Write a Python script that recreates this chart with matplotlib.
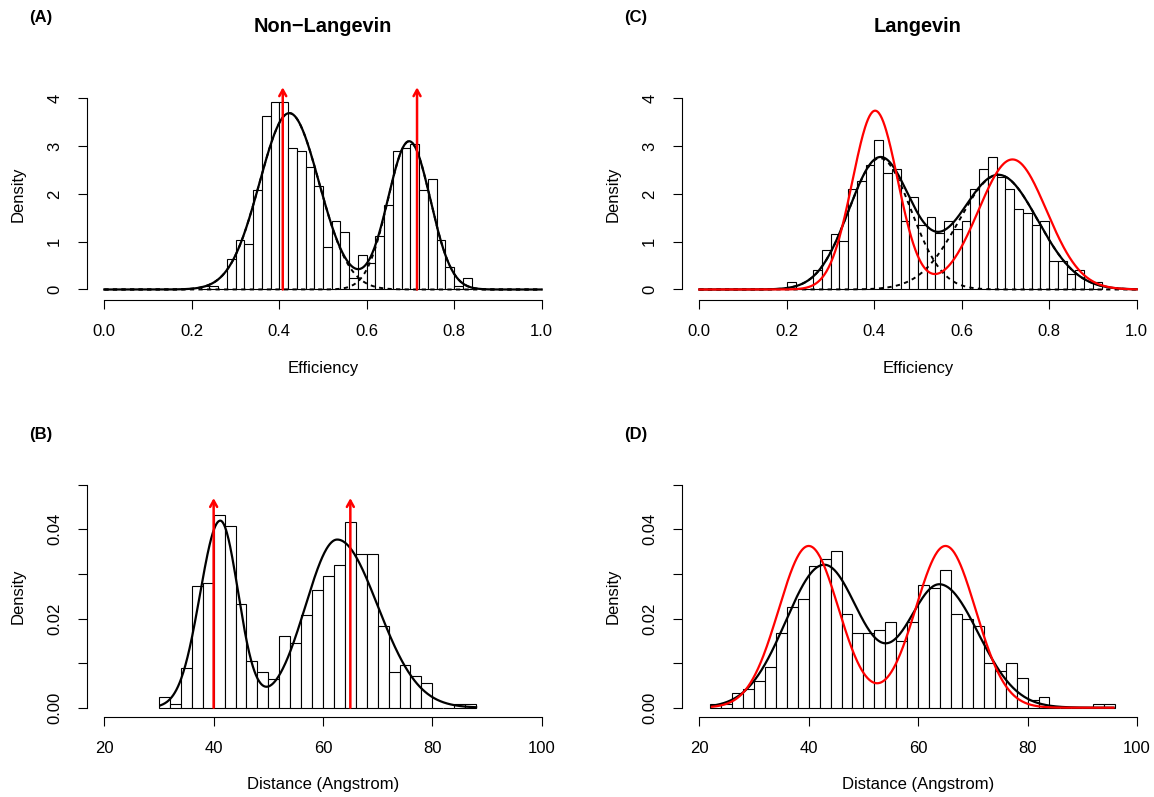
import numpy as np
import matplotlib.pyplot as plt

plt.rcParams['font.family'] = ['Liberation Sans', 'DejaVu Sans']

# ---- histogram densities ----
eff_bin_width = 0.02
nonlang_eff_start = 0.22
nonlang_eff_density = [0.08, 0.08, 0.0, 0.64, 1.04, 0.96, 2.08, 3.62, 3.93, 3.93,
                       2.96, 2.89, 2.57, 2.16, 0.88, 1.44, 1.20, 0.24, 0.72, 0.56,
                       1.12, 1.76, 2.89, 2.96, 3.05, 2.08, 2.32, 1.04, 0.48, 0.08,
                       0.24]
lang_eff_start = 0.20
lang_eff_density = [0.16, 0.0, 0.0, 0.41, 0.83, 1.17, 1.01, 2.11, 2.27, 2.61,
                    3.12, 2.44, 2.52, 1.43, 1.93, 1.35, 1.51, 1.18, 1.43, 1.27,
                    1.43, 2.11, 2.52, 2.77, 2.36, 2.11, 1.68, 1.60, 1.34, 1.43,
                    0.59, 0.59, 0.33, 0.41, 0.0, 0.16]

dist_bin_width = 2
nonlang_dist_start = 30
nonlang_dist_density = [0.0024, 0.0008, 0.0088, 0.0272, 0.0280, 0.0432, 0.0408,
                        0.0232, 0.0104, 0.0080, 0.0064, 0.0160, 0.0144, 0.0208,
                        0.0264, 0.0296, 0.0320, 0.0416, 0.0344, 0.0344, 0.0184,
                        0.0080, 0.0096, 0.0072, 0.0056, 0.0, 0.0, 0.0008, 0.0008]
lang_dist_start = 22
lang_dist_density = [0.0008, 0.0008, 0.0034, 0.0043, 0.0059, 0.0092, 0.0167,
                     0.0225, 0.0243, 0.0318, 0.0334, 0.0351, 0.0209, 0.0167,
                     0.0167, 0.0175, 0.0192, 0.0150, 0.0192, 0.0276, 0.0268,
                     0.0309, 0.0209, 0.0200, 0.0184, 0.0101, 0.0083, 0.0101,
                     0.0067, 0.0017, 0.0025, 0.0, 0.0, 0.0, 0.0, 0.0008, 0.0008]

# ---- fitted components: (mean, sd left, sd right, weight) ----
nonlang_eff_fit = [(0.423, 0.068, 0.068, 0.629), (0.697, 0.0485, 0.0485, 0.377)]
lang_eff_fit = [(0.413, 0.071, 0.071, 0.489), (0.684, 0.0895, 0.0895, 0.538)]
lang_eff_true = [(0.402, 0.052, 0.052, 0.4875), (0.716, 0.078, 0.078, 0.532)]
nonlang_dist_fit = [(41.2, 3.7, 3.3, 0.3676), (62.6, 5.8, 7.4, 0.6237)]
lang_dist_fit = [(42.8, 7.0, 6.6, 0.5455), (64.0, 6.0, 7.0, 0.448)]
lang_dist_true = [(40.0, 5.5, 5.5, 0.5), (65.0, 5.5, 5.5, 0.5)]

eff_curve_range = (0.0, 1.0)
nonlang_dist_range = (30.3, 88.0)
lang_dist_range = (22.3, 95.7)

true_eff = [0.408, 0.715]
true_dist = [40, 65]
eff_arrow_top = 4.23
dist_arrow_top = 0.047

W, H = 1154, 797
fig = plt.figure(figsize=(W / 100, H / 100), dpi=100)
RED = '#FF0000'


def component(x, m, sl, sr, w):
    s = np.where(x < m, sl, sr)
    return w * 2.0 / (np.sqrt(2 * np.pi) * (sl + sr)) * np.exp(-0.5 * ((x - m) / s) ** 2)


def mixture(x, comps):
    return sum(component(x, *c) for c in comps)


def setup_axes(box, x_px, xv, y_px, yv):
    left, right, top, bottom = box
    ax = fig.add_axes([left / W, 1 - bottom / H, (right - left) / W, (bottom - top) / H])
    sx = (xv[1] - xv[0]) / (x_px[1] - x_px[0])
    ax.set_xlim(xv[0] + (left - x_px[0]) * sx, xv[0] + (right - x_px[0]) * sx)
    sy = (yv[1] - yv[0]) / (y_px[0] - y_px[1])
    ax.set_ylim(yv[0] - (bottom - y_px[0]) * sy, yv[0] + (y_px[0] - top) * sy)
    ax.patch.set_visible(False)
    for s in ('top', 'right'):
        ax.spines[s].set_visible(False)
    for s in ('left', 'bottom'):
        ax.spines[s].set_linewidth(0.8)
    ax.tick_params(direction='out', length=6.5, width=0.8, labelsize=12, colors='black')
    ax.tick_params(axis='x', pad=11)
    ax.tick_params(axis='y', pad=11)
    return ax


def finish_y(ax, ticks, labels):
    ax.set_yticks(ticks)
    ax.set_yticklabels(labels)
    ax.spines['left'].set_bounds(ticks[0], ticks[-1])
    for lab in ax.get_yticklabels():
        lab.set_rotation(90)
        lab.set_va('center')
        lab.set_ha('right')


def draw_hist(ax, start, width, dens):
    edges = start + width * np.arange(len(dens))
    ax.bar(edges, dens, width=width, align='edge', color='white',
           edgecolor='black', linewidth=0.8, zorder=2)


def draw_arrows(ax, xs, top):
    for x in xs:
        ax.annotate('', xy=(x, top), xytext=(x, 0), annotation_clip=False, zorder=6,
                    arrowprops=dict(arrowstyle='->,head_length=0.45,head_width=0.25',
                                    color=RED, lw=1.8, shrinkA=0, shrinkB=0))


eff_ticks = [0.0, 0.2, 0.4, 0.6, 0.8, 1.0]
dist_ticks = [20, 40, 60, 80, 100]
eff_yticks = [0, 1, 2, 3, 4]
dist_yticks = [0.0, 0.01, 0.02, 0.03, 0.04, 0.05]
dist_ylabels = ['0.00', '', '0.02', '', '0.04', '']

# ---- (A) Non-Langevin efficiency ----
axA = setup_axes((86.5, 559.5, 86, 300), (104.3, 541.7), (0, 1), (289.5, 98.3), (0, 4))
draw_hist(axA, nonlang_eff_start, eff_bin_width, nonlang_eff_density)
xe = np.linspace(*eff_curve_range, 600)
axA.plot(xe, mixture(xe, nonlang_eff_fit), color='black', lw=1.6, zorder=3)
for c in nonlang_eff_fit:
    axA.plot(xe, component(xe, *c), color='black', lw=1.4, ls=(0, (2.2, 2.2)), zorder=3)
draw_arrows(axA, true_eff, eff_arrow_top)
axA.set_xticks(eff_ticks)
axA.set_xticklabels([f'{t:.1f}' for t in eff_ticks])
axA.spines['bottom'].set_bounds(0, 1)
finish_y(axA, eff_yticks, [str(t) for t in eff_yticks])

# ---- (C) Langevin efficiency ----
axC = setup_axes((681.5, 1154, 86, 300), (699.3, 1136.7), (0, 1), (289.5, 98.3), (0, 4))
draw_hist(axC, lang_eff_start, eff_bin_width, lang_eff_density)
axC.plot(xe, mixture(xe, lang_eff_fit), color='black', lw=1.6, zorder=3)
for c in lang_eff_fit:
    axC.plot(xe, component(xe, *c), color='black', lw=1.4, ls=(0, (2.2, 2.2)), zorder=3)
axC.plot(xe, mixture(xe, lang_eff_true), color=RED, lw=1.6, zorder=4)
axC.set_xticks(eff_ticks)
axC.set_xticklabels([f'{t:.1f}' for t in eff_ticks])
axC.spines['bottom'].set_bounds(0, 1)
finish_y(axC, eff_yticks, [str(t) for t in eff_yticks])

# ---- (B) Non-Langevin distance ----
axB = setup_axes((86.5, 559.5, 480, 716.7), (104.3, 541.7), (20, 100), (707.7, 484.7), (0, 0.05))
draw_hist(axB, nonlang_dist_start, dist_bin_width, nonlang_dist_density)
xb = np.linspace(*nonlang_dist_range, 600)
axB.plot(xb, mixture(xb, nonlang_dist_fit), color='black', lw=1.6, zorder=3)
draw_arrows(axB, true_dist, dist_arrow_top)
axB.set_xticks(dist_ticks)
axB.spines['bottom'].set_bounds(20, 100)
finish_y(axB, dist_yticks, dist_ylabels)

# ---- (D) Langevin distance ----
axD = setup_axes((681.5, 1154, 480, 716.7), (699.3, 1137.0), (20, 100), (707.7, 484.7), (0, 0.05))
draw_hist(axD, lang_dist_start, dist_bin_width, lang_dist_density)
xd = np.linspace(*lang_dist_range, 600)
axD.plot(xd, mixture(xd, lang_dist_fit), color='black', lw=1.6, zorder=3)
axD.plot(xd, mixture(xd, lang_dist_true), color=RED, lw=1.6, zorder=4)
axD.set_xticks(dist_ticks)
axD.spines['bottom'].set_bounds(20, 100)
finish_y(axD, dist_yticks, dist_ylabels)


def ftext(x, y, s, **kw):
    fig.text(x / W, 1 - y / H, s, **kw)


ftext(323, 31.5, 'Non\u2212Langevin', ha='center', va='baseline', fontsize=14.4, fontweight='bold')
ftext(918, 31.5, 'Langevin', ha='center', va='baseline', fontsize=14.4, fontweight='bold')
for tag, x, y in [('(A)', 41, 17.5), ('(C)', 636, 17.5), ('(B)', 41, 435), ('(D)', 636, 435)]:
    ftext(x, y, tag, ha='center', va='center', fontsize=12, fontweight='bold')
for x in (323, 918):
    ftext(x, 369, 'Efficiency', ha='center', va='center', fontsize=12)
    ftext(x, 784, 'Distance (Angstrom)', ha='center', va='center', fontsize=12)
for x in (18.3, 613.3):
    for y in (194, 596):
        ftext(x, y, 'Density', ha='center', va='center', fontsize=12, rotation=90)

fig.savefig('out.png', dpi=100)
